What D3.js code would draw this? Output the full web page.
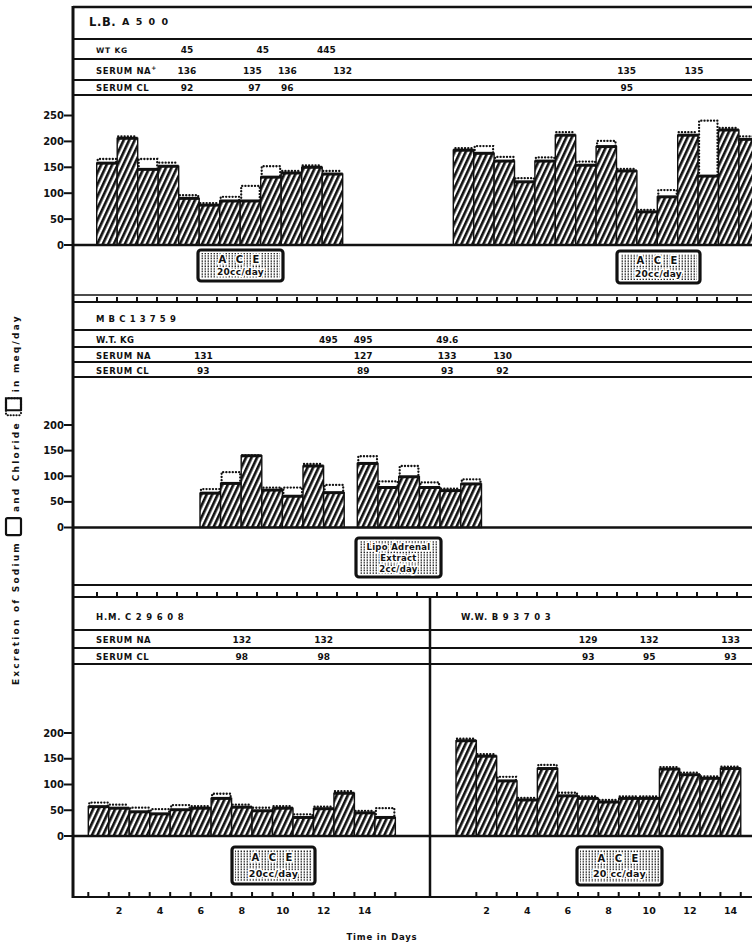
<!DOCTYPE html>
<html>
<head>
<meta charset="utf-8">
<script src="https://cdn.jsdelivr.net/npm/d3@7"></script>
<style>
  body { margin: 0; background: #fff; }
  svg text { font-family: "DejaVu Sans", sans-serif; font-weight: bold; fill: #111; }
</style>
</head>
<body>
<svg id="chart" width="752" height="944"></svg>
<script>
// ---- data (meq/day) ----
// L.B. A500 : two courses
var lbDays1 = [1, 2, 3, 4, 5, 6, 7, 8, 9, 10, 11, 12];
var lbNa1 = [158, 206, 146, 152, 90, 77, 85, 85, 131, 139, 150, 137];
var lbCl1 = [166, 206, 166, 155, 96, 77, 93, 114, 152, 139, 150, 139];
var lbDays2 = [1, 2, 3, 4, 5, 6, 7, 8, 9, 10, 11, 12, 13, 14, 15];
var lbNa2 = [183, 177, 162, 122, 162, 212, 154, 190, 143, 64, 93, 212, 133, 222, 204];
var lbCl2 = [187, 191, 170, 129, 169, 214, 161, 201, 143, 64, 106, 214, 240, 222, 206];

// MB C13759
var mbDays1 = [1, 2, 3, 4, 5, 6, 7];
var mbNa1 = [67, 86, 140, 73, 61, 120, 68];
var mbCl1 = [75, 108, 137, 78, 78, 120, 83];
var mbDays2 = [1, 2, 3, 4, 5, 6];
var mbNa2 = [125, 78, 99, 78, 72, 85];
var mbCl2 = [139, 90, 120, 88, 72, 94];

// H.M. C29608
var hmDays = [1, 2, 3, 4, 5, 6, 7, 8, 9, 10, 11, 12, 13, 14, 15];
var hmNa = [57, 54, 47, 43, 51, 54, 73, 56, 49, 54, 36, 53, 83, 45, 36];
var hmCl = [65, 57, 55, 52, 60, 54, 82, 57, 51, 54, 42, 53, 83, 45, 54];

// W.W. B93703
var wwDays = [1, 2, 3, 4, 5, 6, 7, 8, 9, 10, 11, 12, 13, 14];
var wwNa = [185, 155, 107, 70, 131, 78, 73, 66, 73, 73, 130, 119, 112, 131];
var wwCl = [185, 155, 115, 70, 138, 84, 73, 66, 73, 73, 130, 119, 112, 131];

// header annotations: [row, day, text]
var lbNotes = [
  ['wt', 4.9, '45'], ['wt', 8.6, '45'], ['wt', 11.7, '445'],
  ['na', 4.9, '136'], ['na', 8.1, '135'], ['na', 9.8, '136'], ['na', 12.5, '132'],
  ['cl', 4.9, '92'], ['cl', 8.2, '97'], ['cl', 9.8, '96']
];
var lbNotes2 = [['na', 9, '135'], ['na', 12.3, '135'], ['cl', 9, '95']];
var mbNotes = [
  ['wt', 11.8, '495'], ['wt', 13.5, '495'], ['wt', 17.6, '49.6'],
  ['na', 5.7, '131'], ['na', 13.5, '127'], ['na', 17.6, '133'], ['na', 20.3, '130'],
  ['cl', 5.7, '93'], ['cl', 13.5, '89'], ['cl', 17.6, '93'], ['cl', 20.3, '92']
];
var hmNotes = [['na', 8, '132'], ['na', 12, '132'], ['cl', 8, '98'], ['cl', 12, '98']];
var wwNotes = [['na', 7, '129'], ['na', 10, '132'], ['na', 14, '133'], ['cl', 7, '93'], ['cl', 10, '95'], ['cl', 14, '93']];

var topTicks = [0, 50, 100, 150, 200, 250];
var lowTicks = [0, 50, 100, 150, 200];
var dayLabels = [2, 4, 6, 8, 10, 12, 14];

// ---- drawing ----
var svg = d3.select('#chart');
var ink = '#111';
var L = 73, R = 752;

var defs = svg.append('defs');
var hatch = defs.append('pattern').attr('id', 'hatch')
  .attr('patternUnits', 'userSpaceOnUse').attr('width', 5).attr('height', 10)
  .attr('patternTransform', 'rotate(25)');
hatch.append('rect').attr('width', 5).attr('height', 10).attr('fill', '#fff');
hatch.append('line').attr('x1', 1.3).attr('x2', 1.3).attr('y1', 0).attr('y2', 10)
  .attr('stroke', ink).attr('stroke-width', 2.7);

var vdots = defs.append('pattern').attr('id', 'vdots')
  .attr('patternUnits', 'userSpaceOnUse').attr('width', 3).attr('height', 2.6);
vdots.append('rect').attr('width', 3).attr('height', 2.6).attr('fill', '#fff');
vdots.append('rect').attr('x', 0.6).attr('y', 0.4).attr('width', 1.3).attr('height', 1.5).attr('fill', ink);

function hline(y, x1, x2, w) {
  svg.append('line').attr('x1', x1).attr('x2', x2).attr('y1', y).attr('y2', y)
    .attr('stroke', ink).attr('stroke-width', w || 2);
}
function vline(x, y1, y2, w) {
  svg.append('line').attr('x1', x).attr('x2', x).attr('y1', y1).attr('y2', y2)
    .attr('stroke', ink).attr('stroke-width', w || 2.5);
}

function dayScale(x0, w) {
  return d3.scaleLinear().domain([0.5, 1.5]).range([x0, x0 + w]);
}

function drawBars(x, y, days, na, cl) {
  var data = days.map(function(d, i) { return {day: d, na: na[i], cl: cl[i]}; });
  var w = x(1.5) - x(0.5);
  var g = svg.append('g');
  g.selectAll('rect.na').data(data).join('rect')
    .attr('class', 'na')
    .attr('x', function(d) { return x(d.day - 0.5); })
    .attr('width', w)
    .attr('y', function(d) { return y(d.na); })
    .attr('height', function(d) { return y(0) - y(d.na); })
    .attr('fill', 'url(#hatch)')
    .attr('stroke', ink).attr('stroke-width', 1.4);
  g.selectAll('line.top').data(data).join('line')
    .attr('class', 'top')
    .attr('x1', function(d) { return x(d.day - 0.5); })
    .attr('x2', function(d) { return x(d.day + 0.5); })
    .attr('y1', function(d) { return y(d.na); })
    .attr('y2', function(d) { return y(d.na); })
    .attr('stroke', ink).attr('stroke-width', 3);
  // chloride: dotted outline above the sodium bar
  g.selectAll('path.cl').data(data).join('path')
    .attr('class', 'cl')
    .attr('d', function(d) {
      var x1 = x(d.day - 0.5) + 1, x2 = x(d.day + 0.5) - 1;
      var yc = y(d.cl) - (d.cl - d.na < 4 ? 2 : 0);
      if (d.cl - d.na < 4) return 'M' + x1 + ',' + yc + 'H' + x2;
      return 'M' + x1 + ',' + y(d.na) + 'V' + yc + 'H' + x2 + 'V' + y(d.na);
    })
    .attr('fill', 'none')
    .attr('stroke', ink).attr('stroke-width', 2.3)
    .attr('stroke-dasharray', '0.1 3.1').attr('stroke-linecap', 'round');
}

function drawYAxis(y, ticks) {
  var g = svg.append('g');
  g.selectAll('line').data(ticks).join('line')
    .attr('x1', L - 9).attr('x2', L).attr('y1', y).attr('y2', y)
    .attr('stroke', ink).attr('stroke-width', 2);
  g.selectAll('text').data(ticks).join('text')
    .attr('x', L - 9).attr('y', y).attr('dy', '0.36em')
    .attr('text-anchor', 'end').attr('font-size', 10)
    .text(function(d) { return d; });
}

function drawTickRow(yLine, positions, x1, x2) {
  hline(yLine, x1, x2, 2.2);
  svg.append('g').selectAll('line').data(positions).join('line')
    .attr('x1', function(d) { return d; }).attr('x2', function(d) { return d; })
    .attr('y1', yLine - 5).attr('y2', yLine)
    .attr('stroke', ink).attr('stroke-width', 2);
}

function drawNotes(notes, x, rows) {
  svg.append('g').selectAll('text').data(notes).join('text')
    .attr('x', function(d) { return x(d[1]); })
    .attr('y', function(d) { return rows[d[0]]; })
    .attr('text-anchor', 'middle').attr('font-size', 9)
    .text(function(d) { return d[2]; });
}

function label(x, y, txt, size, spacing) {
  svg.append('text').attr('x', x).attr('y', y).attr('font-size', size || 8.5)
    .attr('letter-spacing', spacing || 0.6).text(txt);
}

function drawBox(x0, y0, w, h, lines, sizes) {
  var g = svg.append('g');
  g.append('rect').attr('x', x0).attr('y', y0).attr('width', w).attr('height', h)
    .attr('rx', 3).attr('fill', '#fff').attr('stroke', ink).attr('stroke-width', 3.2);
  g.append('rect').attr('x', x0 + 3).attr('y', y0 + 3).attr('width', w - 6).attr('height', h - 6)
    .attr('fill', 'url(#vdots)');
  var step = (h - 6) / lines.length;
  lines.forEach(function(t, i) {
    g.append('text').attr('x', x0 + w / 2).attr('y', y0 + 3 + step * (i + 0.5))
      .attr('dy', '0.36em').attr('text-anchor', 'middle')
      .attr('font-size', sizes[i]).attr('letter-spacing', i === 0 && lines.length === 2 ? 3 : 0.3)
      .attr('stroke', '#fff').attr('stroke-width', 3).attr('paint-order', 'stroke')
      .text(t);
  });
}

// scales
var xHdr = dayScale(96.7, 20.5);
var yTop = d3.scaleLinear().domain([0, 250]).range([245, 115.5]);
var yMid = d3.scaleLinear().domain([0, 200]).range([527.5, 425]);
var yBot = d3.scaleLinear().domain([0, 200]).range([836, 733]);

var xLB1 = dayScale(96.7, 20.5);
var xLB2 = dayScale(453.3, 20.4);
var xMB1 = dayScale(200, 20.6);
var xMB2 = dayScale(357.3, 20.7);
var xHM = dayScale(88.3, 20.47);
var xWW = dayScale(456, 20.34);

// ---- panel 1: L.B. A500 ----
hline(7, L, R, 2.5);
[39, 59, 80, 95].forEach(function(y) { hline(y, L, R, 2); });
label(89, 26, 'L.B.', 11.5, 0);
label(122, 25, 'A 5 0 0', 9.5, 1.5);
var lbRows = {wt: 52.5, na: 73.5, cl: 91};
label(96, lbRows.wt, 'WT KG', 7.5, 0.8);
svg.append('text').attr('x', 96).attr('y', lbRows.na).attr('font-size', 8.5).attr('letter-spacing', 0.6)
  .text('SERUM NA').append('tspan').attr('dy', -4).attr('font-size', 6).text('+');
label(96, lbRows.cl, 'SERUM CL', 8.5, 0.6);
drawNotes(lbNotes, xHdr, lbRows);
drawNotes(lbNotes2, xLB2, lbRows);
drawBars(xLB1, yTop, lbDays1, lbNa1, lbCl1);
drawBars(xLB2, yTop, lbDays2, lbNa2, lbCl2);
hline(yTop(0), L, R, 2.6);
drawYAxis(yTop, topTicks);
drawBox(198, 250, 85, 31, ['A C E', '20cc/day'], [10, 9]);
drawBox(617, 251, 83, 32, ['A C E', '20cc/day'], [10, 9]);
hline(295, L, R, 1.6);

var rowTicks = d3.range(0, 33).map(function(k) { return 97 + k * 20; });
drawTickRow(302, rowTicks, L, R);

// ---- panel 2: MB C13759 ----
[330, 347, 362, 377].forEach(function(y) { hline(y, L, R, 2); });
label(96, 322, 'M B   C 1 3 7 5 9', 8.5, 0.6);
var mbRows = {wt: 342.5, na: 358.5, cl: 373.5};
label(96, mbRows.wt, 'W.T. KG', 8.5, 0.3);
label(96, mbRows.na, 'SERUM NA', 8.5, 0.6);
label(96, mbRows.cl, 'SERUM CL', 8.5, 0.6);
drawNotes(mbNotes, xHdr, mbRows);
drawBars(xMB1, yMid, mbDays1, mbNa1, mbCl1);
drawBars(xMB2, yMid, mbDays2, mbNa2, mbCl2);
hline(yMid(0), L, R, 2.6);
drawYAxis(yMid, lowTicks);
drawBox(356, 538, 85, 39, ['Lipo Adrenal', 'Extract', '2cc/day'], [8.5, 8.5, 8.5]);
hline(585, L, R, 2);
drawTickRow(597, rowTicks, L, R);

// ---- panel 3: H.M. C29608 / W.W. B93703 ----
[630, 648, 664].forEach(function(y) { hline(y, L, R, 2); });
label(96, 620, 'H.M.  C 2 9 6 0 8', 8.5, 0.8);
label(461, 620, 'W.W.  B 9 3 7 0 3', 8.5, 0.8);
var botRows = {na: 643, cl: 660};
label(96, botRows.na, 'SERUM NA', 8.5, 0.6);
label(96, botRows.cl, 'SERUM CL', 8.5, 0.6);
drawNotes(hmNotes, xHM, botRows);
drawNotes(wwNotes, xWW, botRows);
drawBars(xHM, yBot, hmDays, hmNa, hmCl);
drawBars(xWW, yBot, wwDays, wwNa, wwCl);
hline(yBot(0), L, R, 2.6);
drawYAxis(yBot, lowTicks);
drawBox(232, 847, 83, 37, ['A C E', '20cc/day'], [10, 9.5]);
drawBox(577, 847, 85, 38, ['A C E', '20 cc/day'], [10, 9.5]);

var botTicks = d3.range(0, 16).map(function(k) { return xHM(k + 0.5); })
  .concat(d3.range(1, 15).map(function(k) { return xWW(k + 0.5); }));
drawTickRow(897, botTicks, L, R);
svg.append('g').selectAll('text').data(dayLabels).join('text')
  .attr('x', function(d) { return xHM(d); }).attr('y', 914)
  .attr('text-anchor', 'middle').attr('font-size', 9.5).text(function(d) { return d; });
svg.append('g').selectAll('text').data(dayLabels).join('text')
  .attr('x', function(d) { return xWW(d); }).attr('y', 914)
  .attr('text-anchor', 'middle').attr('font-size', 9.5).text(function(d) { return d; });
svg.append('text').attr('x', 382).attr('y', 940).attr('text-anchor', 'middle')
  .attr('font-size', 8.5).attr('letter-spacing', 0.8).text('Time in Days');

// frame verticals
vline(L, 6, 898, 3);
vline(430, 597, 898, 2.5);

// ---- rotated y title ----
var tg = svg.append('g').attr('transform', 'translate(19,685) rotate(-90)');
var cx = 0;
function tpart(t) {
  var el = tg.append('text').attr('x', cx).attr('y', 0).attr('font-size', 9)
    .attr('letter-spacing', 2.2).text(t);
  cx += el.node().getComputedTextLength() + 6;
}
function tbox(dotted) {
  tg.append('rect').attr('x', cx).attr('y', -13).attr('width', 17).attr('height', 15)
    .attr('rx', 1.5).attr('fill', 'none').attr('stroke', ink).attr('stroke-width', 2.2)
    .attr('stroke-dasharray', dotted ? '0.1 2.8' : null)
    .attr('stroke-linecap', dotted ? 'round' : null);
  if (dotted) {
    tg.append('path').attr('d', 'M' + (cx + 5) + ',2V-13H' + (cx + 17) + 'V2H' + (cx + 5))
      .attr('fill', 'none').attr('stroke', ink).attr('stroke-width', 2.2);
  }
  cx += 23;
}
tpart('Excretion of Sodium');
tbox(false);
tpart('and Chloride');
tbox(true);
tpart('in meq/day');
</script>
</body>
</html>
